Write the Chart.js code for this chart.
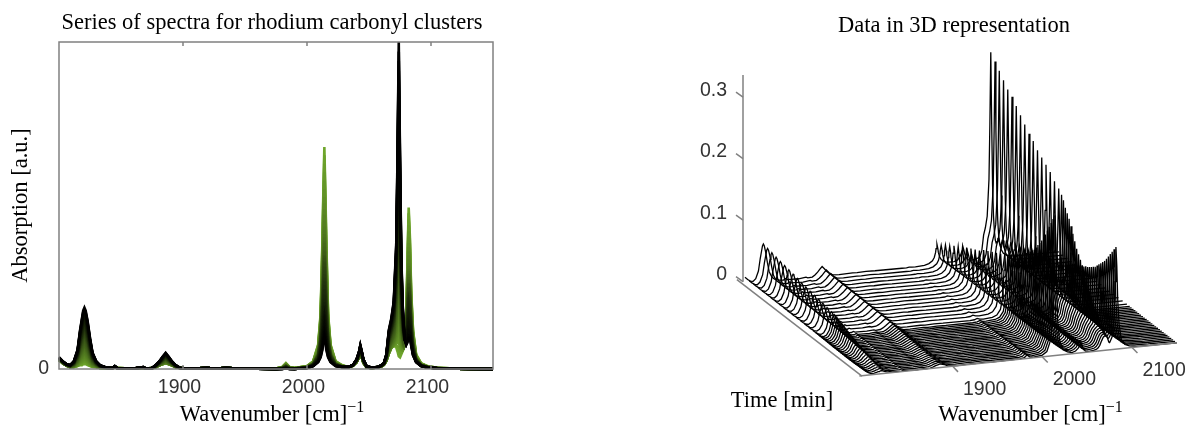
<!DOCTYPE html>
<html>
<head>
<meta charset="utf-8">
<title>Rhodium carbonyl spectra</title>
<script src="https://cdn.jsdelivr.net/npm/chart.js@4"></script>
<style>
  html, body { margin: 0; background: #fff; overflow: hidden; width: 1189px; height: 425px; }
  canvas { position: absolute; top: 0; }
  #spectraChart { left: 0; }
  #waterfallChart { left: 680px; }
</style>
</head>
<body>
<canvas id="spectraChart" width="544" height="425"></canvas>
<canvas id="waterfallChart" width="548" height="425"></canvas>
<script>
const wavenumbers = [1800,1803,1806,1809,1812,1815,1817,1818.5,1819.5,1820.5,1821.5,1823,1825,1827,1830,1833,1838,1843,1845,1847,
    1860,1868,1870,1875,1878,1881,1883.5,1886,1888.5,1891,1894,1898,1905,1920,1925,1935,1945,1975,1980,1983,1986,1990,
    2000,2005,2009,2011,2012.5,2013,2014,2015,2015.5,2017,2019,2023,2028,2033,2037,2040,2042,2043,2044,2045.5,2048,2052,2057,2060,
    2062,2064,2066,2068,2070,2072,2073,2074,2075,2076,2077,2078,2079,2080,2081,2082,2083,2084,2085.5,2088,2092,2097,2105,2120,2150];

// spectrum at the back of the waterfall (black curves on the left)
const earlySpectrum = [.012,.008,.005,.004,.008,.02,.04,.052,.06,.063,.06,.05,.032,.017,.008,.004,.0015,.001,.003,.001,
    .0005,.002,.0005,.001,.004,.008,.0125,.0165,.0125,.008,.004,.001,.0005,.001,.0005,.001,.0005,0,0,.0005,0,0,
    .001,.003,.007,.012,.02,.026,.033,.026,.02,.012,.007,.003,.002,.002,.004,.01,.018,.0245,.019,.01,.003,.0015,.002,.004,
    .006,.015,.04,.052,.07,.13,.22,.336,.22,.12,.07,.045,.03,.025,.027,.032,.032,.024,.014,.007,.003,.0015,.0007,.0003,0];
// spectrum at the front of the waterfall (green curves on the left)
const lateSpectrum = [.011,.007,.004,.002,.002,.003,.004,.004,.005,.005,.005,.004,.003,.002,.002,.001,.001,.001,.002,.001,
    .0005,.001,.0005,.001,.002,.004,.005,.006,.005,.004,.002,.001,.0005,.001,.0005,.001,.0005,.0005,.002,.006,.002,.001,
    .003,.008,.025,.057,.135,.17,.228,.17,.135,.057,.025,.008,.004,.002,.004,.008,.014,.017,.014,.007,.002,.001,.002,.003,
    .005,.009,.016,.022,.024,.022,.018,.013,.012,.015,.018,.022,.035,.05,.11,.166,.135,.08,.04,.015,.006,.003,.0012,.0004,0];

const times = [0,3.6,7.2,10.8,14.4,18,21.6,25.2,28.8,32.4,36,39.6,43.2,46.8,50.4,54,57.6,
    60,61.6,63.2,64.8,66.4,68,69.6,71.2,72.8,74.4,76,77.6,79.2,80.8,82.4,84,85.6,87.2,88.8,90.4,92,93.6,95.2,96.8,98.4,100];
const earlyAmount = [1,.97,.94,.91,.88,.86,.83,.8,.77,.74,.72,.69,.67,.65,.63,.6,.58,
    .56,.54,.51,.49,.47,.44,.41,.38,.35,.33,.31,.29,.26,.24,.21,.19,.17,.14,.12,.1,.08,.06,.05,.03,.02,0];
const lateAmount = [0,.02,.05,.07,.1,.12,.14,.17,.19,.21,.23,.26,.28,.3,.32,.34,.36,
    .38,.4,.41,.43,.44,.45,.47,.48,.5,.52,.53,.55,.57,.59,.61,.64,.67,.7,.73,.76,.8,.84,.88,.92,.96,1];

const wavenumberTicks = [1900, 2000, 2100];
const absorptionTicks = [0, 0.1, 0.2, 0.3];

const serif = "'Liberation Serif', serif";
const sans = "'Liberation Sans', sans-serif";
const axisGray = "#808080";
const tickText = "#333333";
const topAbsorption = 0.336;

// each measured spectrum is the mix of the two read species
const spectra = times.map((t, i) => wavenumbers.map((w, j) =>
    earlyAmount[i] * earlySpectrum[j] + lateAmount[i] * lateSpectrum[j]));

// waterfall view: time pushes a curve right and down, wavenumber lifts it slightly
function project(w, t, z) {
    return {
        x: w + (t / 100) * 131.5,
        y: z - 0.005 + (w - 1800) * 0.000153 - (t / 100) * 0.148
    };
}

function wavenumberTitle(ctx, centerX, baseY) {
    ctx.fillStyle = "#000";
    ctx.textBaseline = "alphabetic";
    ctx.textAlign = "left";
    ctx.font = "22.5px " + serif;
    const main = "Wavenumber [cm]";
    const w = ctx.measureText(main).width;
    ctx.fillText(main, centerX - (w + 19) / 2, baseY);
    ctx.font = "16px " + serif;
    ctx.fillText("\u22121", centerX - (w + 19) / 2 + w, baseY - 9);
}

const spectraDecor = {
    id: "spectraDecor",
    afterDraw(chart) {
        const { ctx, chartArea: a, scales } = chart;
        const left = scales.x.getPixelForValue(1800);
        ctx.save();
        ctx.strokeStyle = axisGray;
        ctx.lineWidth = 1.5;
        ctx.strokeRect(left, a.top, a.right - left, a.bottom - a.top);
        wavenumberTicks.forEach(v => {
            const x = scales.x.getPixelForValue(v);
            ctx.beginPath();
            ctx.moveTo(x, a.top);
            ctx.lineTo(x, a.top + 4);
            ctx.moveTo(x, a.bottom);
            ctx.lineTo(x, a.bottom - 4);
            ctx.stroke();
        });
        wavenumberTitle(ctx, 273, 421);
        ctx.restore();
    }
};

const waterfallDecor = {
    id: "waterfallDecor",
    afterDraw(chart) {
        const { ctx, scales } = chart;
        ctx.save();
        ctx.fillStyle = tickText;
        ctx.font = "19.5px " + sans;
        ctx.textAlign = "center";
        ctx.textBaseline = "middle";
        wavenumberTicks.forEach(v => {
            const p = project(v, 100, 0);
            ctx.fillText(String(v), scales.x.getPixelForValue(p.x) + 32, scales.y.getPixelForValue(p.y) + 23);
        });
        ctx.fillStyle = "#000";
        ctx.font = "22.5px " + serif;
        ctx.fillText("Time [min]", 102, 401);
        wavenumberTitle(ctx, 351.5, 421);
        ctx.restore();
    }
};

// Left panel
new Chart(document.getElementById("spectraChart"), {
    type: "line",
    data: {
        datasets: spectra.map((s, i) => {
            const f = i / (spectra.length - 1);
            return {
                data: wavenumbers.map((w, j) => ({ x: w, y: s[j] })),
                borderColor: `rgb(${Math.round(111 * f)},${Math.round(166 * f)},${Math.round(44 * f)})`,
                borderWidth: 2.6,
                pointRadius: 0,
                tension: 0,
                clip: false
            };
        })
    },
    options: {
        responsive: false,
        animation: false,
        layout: { padding: { right: 51 } },
        plugins: {
            legend: { display: false },
            tooltip: { enabled: false },
            title: {
                display: true,
                fullSize: false,
                text: "Series of spectra for rhodium carbonyl clusters",
                color: "#000",
                font: { family: serif, size: 22.5, weight: "normal" },
                padding: { top: 9.5, bottom: 5.5 }
            }
        },
        scales: {
            x: {
                type: "linear",
                // a little room left of 1800 so the title centres where the reference has it
                min: 1793.55,
                max: 2150,
                grid: { display: false, drawTicks: false },
                border: { display: false },
                afterBuildTicks: s => { s.ticks = wavenumberTicks.map(v => ({ value: v })); },
                afterFit: s => { s.height = 56; },
                ticks: {
                    color: tickText,
                    font: { family: sans, size: 19.5 },
                    padding: 7,
                    labelOffset: -3.5,
                    maxRotation: 0,
                    callback: v => String(v)
                }
            },
            y: {
                min: 0,
                max: topAbsorption,
                grid: { display: false, drawTicks: false },
                border: { display: false },
                afterBuildTicks: s => { s.ticks = [{ value: 0 }]; },
                afterFit: s => { s.width = 51; },
                ticks: {
                    color: tickText,
                    font: { family: sans, size: 19.5 },
                    padding: 2,
                    callback: v => String(v)
                },
                title: {
                    display: true,
                    text: "Absorption [a.u.]",
                    color: "#000",
                    font: { family: serif, size: 22.5, weight: "normal" },
                    padding: { top: 7.5, bottom: 0 }
                }
            }
        }
    },
    plugins: [spectraDecor]
});

// Right panel
const rows = spectra.map((s, i) => ({
    data: wavenumbers.map((w, j) => project(w, times[i], s[j])),
    borderColor: "#000",
    borderWidth: 1.3,
    pointRadius: 0,
    tension: 0,
    clip: false
}));

function axisLine(points) {
    return { data: points, borderColor: axisGray, borderWidth: 1.5, pointRadius: 0, tension: 0, clip: false };
}

const axes = [
    axisLine([{ x: 1797.8, y: 0 }, { x: 1797.8, y: topAbsorption }]),
    axisLine([{ x: 1791, y: project(1791, 0, 0.0097).y }, project(1791, 106, 0.0097)]),
    axisLine([project(1796, 100, 0), project(2150, 100, 0)])
];
absorptionTicks.forEach(v => axes.push(axisLine([{ x: 1797.8, y: v }, { x: 1790, y: v + 0.008 }])));
wavenumberTicks.forEach(v => {
    const p = project(v, 100, 0);
    axes.push(axisLine([p, { x: p.x + 6, y: p.y - 0.009 }]));
});

new Chart(document.getElementById("waterfallChart"), {
    type: "line",
    data: { datasets: axes.concat(rows) },
    options: {
        responsive: false,
        animation: false,
        layout: { padding: { right: 63, bottom: 32.66 } },
        plugins: {
            legend: { display: false },
            tooltip: { enabled: false },
            title: {
                display: true,
                fullSize: false,
                text: "Data in 3D representation",
                color: "#000",
                font: { family: serif, size: 22.5, weight: "normal" },
                padding: { top: 12.5, bottom: 35.5 }
            }
        },
        scales: {
            x: { type: "linear", display: false, min: 1797.8, max: 2268.2 },
            y: {
                min: -0.18,
                max: topAbsorption,
                grid: { display: false, drawTicks: false },
                border: { display: false },
                afterBuildTicks: s => { s.ticks = absorptionTicks.map(v => ({ value: v })); },
                afterFit: s => { s.width = 63; },
                ticks: {
                    color: tickText,
                    font: { family: sans, size: 19.5 },
                    padding: 16,
                    labelOffset: -7,
                    callback: v => String(v)
                }
            }
        }
    },
    plugins: [waterfallDecor]
});
</script>
</body>
</html>
